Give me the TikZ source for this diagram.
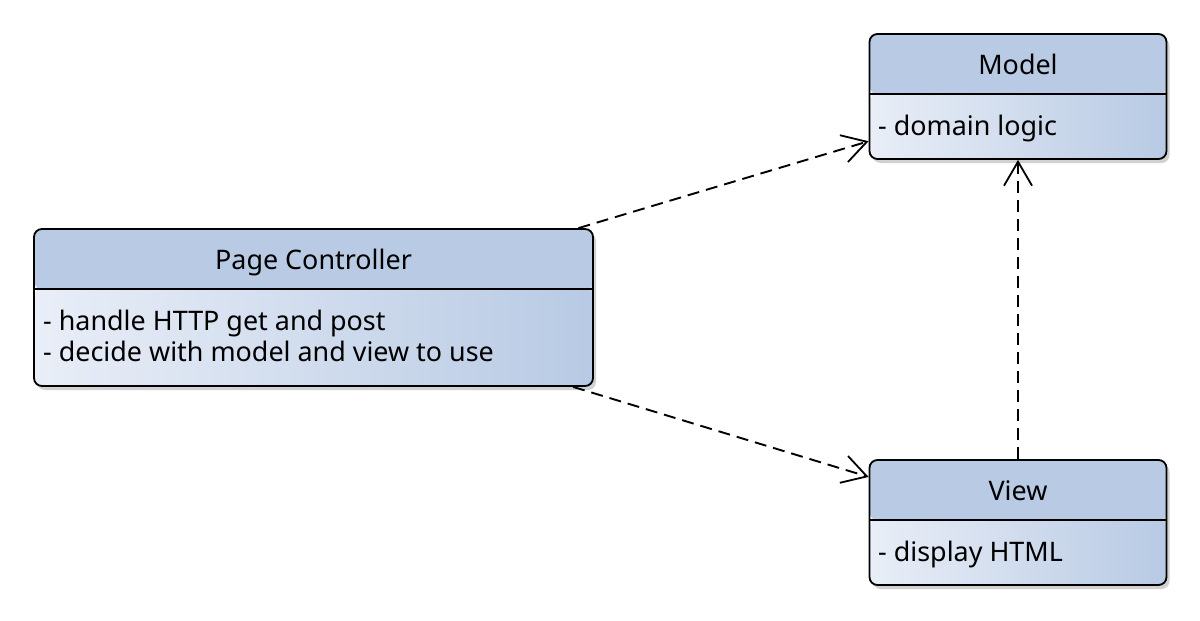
\documentclass[tikz,border=0pt]{standalone}
\usepackage{fontspec}
\setmainfont{Noto Sans}
\usetikzlibrary{arrows.meta,shadows}
\definecolor{hdr}{HTML}{B8CAE4}
\definecolor{bodyL}{HTML}{E9EEF7}
\definecolor{bodyR}{HTML}{B8CAE4}
\tikzset{
  umlbox/.style={draw, line width=1.8pt, rounded corners=8pt, inner sep=0pt,
    drop shadow={shadow xshift=3pt, shadow yshift=-4pt, opacity=0.3, fill=black!60},
    path picture={
      \fill[hdr] (path picture bounding box.north west) rectangle ([yshift=-60pt]path picture bounding box.north east);
      \shade[left color=bodyL, right color=bodyR] ([yshift=-60pt]path picture bounding box.north west) rectangle (path picture bounding box.south east);
      \draw[line width=1.8pt] ([yshift=-60pt]path picture bounding box.north west) -- ([yshift=-60pt]path picture bounding box.north east);
    }},
  txt/.style={inner sep=0pt, font=\fontsize{26.9pt}{31pt}\selectfont, text=black},
  dep/.style={line width=1.9pt, dash pattern=on 12pt off 7pt,
    -{Straight Barb[length=24pt, width=28pt, line width=1.8pt]}},
}
\begin{document}
\begin{tikzpicture}[x=1pt, y=-1pt]
\useasboundingbox (0,0) rectangle (1200,621);
\node[umlbox, minimum width=297pt, minimum height=125pt] (model) at (1018,96.5) {};
\node[umlbox, minimum width=559pt, minimum height=157pt] (pc) at (313.5,307.5) {};
\node[umlbox, minimum width=297pt, minimum height=125pt] (view) at (1018,522.5) {};

\node[txt, anchor=base] (modelT) at (1018,74) {Model};
\node[txt, anchor=base west] (modelB) at (878,135) {- domain logic};
\node[txt, anchor=base] (pcT) at (313.5,269) {Page Controller};
\node[txt, anchor=base west] (pcB1) at (43,330) {- handle HTTP get and post};
\node[txt, anchor=base west] (pcB2) at (43,361) {- decide with model and view to use};
\node[txt, anchor=base] (viewT) at (1018,500) {View};
\node[txt, anchor=base west] (viewB) at (878,561) {- display HTML};

\draw[dep] (pc) -- (model);
\draw[dep] (pc) -- (view);
\draw[dep] (view) -- (model);
\end{tikzpicture}
\end{document}
